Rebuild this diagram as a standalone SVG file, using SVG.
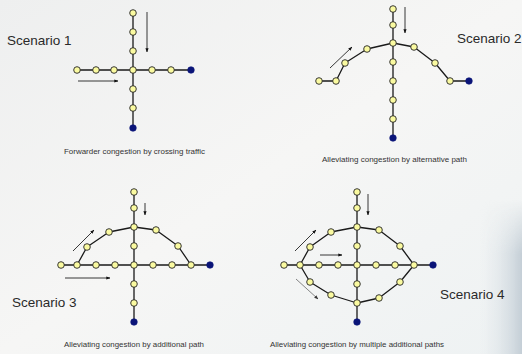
<svg xmlns="http://www.w3.org/2000/svg" width="522" height="354" viewBox="0 0 522 354">
  <defs>
    <linearGradient id="bg" x1="0" y1="0" x2="1" y2="1">
      <stop offset="0" stop-color="#eeefef"/>
      <stop offset="0.5" stop-color="#f6f6f5"/>
      <stop offset="1" stop-color="#eef2f3"/>
    </linearGradient>
    <linearGradient id="edge" x1="0" y1="0" x2="1" y2="0">
      <stop offset="0" stop-color="#e4eaee" stop-opacity="0"/>
      <stop offset="1" stop-color="#c4ced6"/>
    </linearGradient>
    <linearGradient id="edge-fade" x1="0" y1="0" x2="0" y2="1">
      <stop offset="0" stop-color="#fff" stop-opacity="0"/>
      <stop offset="0.35" stop-color="#fff" stop-opacity="1"/>
      <stop offset="1" stop-color="#fff" stop-opacity="1"/>
    </linearGradient>
    <mask id="edge-mask" maskUnits="userSpaceOnUse" x="480" y="200" width="42" height="154">
      <rect x="480" y="200" width="42" height="154" fill="url(#edge-fade)"/>
    </mask>
    <marker id="head" viewBox="0 0 6 6" refX="5.5" refY="3" markerWidth="4.5" markerHeight="4.5" orient="auto">
      <path d="M0,0.6 L6,3 L0,5.4 Z" fill="#111"/>
    </marker>
    <marker id="head-grey" viewBox="0 0 6 6" refX="5.5" refY="3" markerWidth="4.5" markerHeight="4.5" orient="auto">
      <path d="M0,0.6 L6,3 L0,5.4 Z" fill="#333"/>
    </marker>
  </defs>
  <style>
    .link { fill: none; stroke: #1a1a1a; stroke-width: 1.3; stroke-linejoin: round; }
    .flow { fill: none; stroke: #222; stroke-width: 0.9; marker-end: url(#head); }
    .flow-grey { fill: none; stroke: #777; stroke-width: 0.9; marker-end: url(#head-grey); }
    .hop { fill: #fafaa0; stroke: #222; stroke-width: 0.9; }
    .sink { fill: #0a1478; stroke: #0a1478; stroke-width: 0.6; }
    .title { font-family: "Liberation Sans", Arial, sans-serif; font-size: 13.5px; fill: #2a2a2a; }
    .caption { font-family: "Liberation Sans", Arial, sans-serif; font-size: 8px; fill: #333; }
  </style>

  <!-- background -->
  <rect x="0" y="0" width="522" height="354" fill="url(#bg)"/>
  <rect x="480" y="200" width="42" height="154" fill="url(#edge)" mask="url(#edge-mask)"/>

  <!-- links and traffic arrows -->
  <g id="connectors">
    <!-- scenario 1 -->
    <path class="link" d="M133,13 V128 M77,70 H191"/>
    <path class="flow" d="M147,12 V52"/>
    <path class="flow" d="M78,81 H118"/>
    <!-- scenario 2 -->
    <path class="link" d="M393,9 V138"/>
    <path class="link" d="M319,81 L336,81 L345,63 L367,49 L393,43 L414,47 L435,63 L450,81 L469,81"/>
    <path class="flow" d="M405,7 V33"/>
    <path class="flow" d="M330,68 L352,47"/>
    <!-- scenario 3 -->
    <path class="link" d="M134,192 V322 M61,265 H210"/>
    <path class="link" d="M77,265 L87,247 L109,232 L134,227 L156,230 L178,246 L191,265"/>
    <path class="flow" d="M145,203 V215"/>
    <path class="flow" d="M73,251 L94,230"/>
    <path class="flow" d="M65,278 H110"/>
    <!-- scenario 4 -->
    <path class="link" d="M357,192 V322 M284,265 H433"/>
    <path class="link" d="M300,265 L310,247 L331,232 L357,227 L379,230 L400,246 L414,265"/>
    <path class="link" d="M300,265 L310,282 L331,295 L357,303 L379,298 L400,282 L414,265"/>
    <path class="flow" d="M368,194 V215"/>
    <path class="flow" d="M295,251 L316,230"/>
    <path class="flow" d="M320,255 H342"/>
    <path class="flow-grey" d="M296,279 L318,299"/>
  </g>

  <!-- scenario 1 nodes -->
  <g id="scenario1">
    <text class="title" x="7" y="45">Scenario 1</text>
    <circle class="hop" cx="133" cy="13" r="3.3"/>
    <circle class="hop" cx="133" cy="32" r="3.3"/>
    <circle class="hop" cx="133" cy="51" r="3.3"/>
    <circle class="hop" cx="133" cy="70" r="3.3"/>
    <circle class="hop" cx="133" cy="89" r="3.3"/>
    <circle class="hop" cx="133" cy="108" r="3.3"/>
    <circle class="sink" cx="133" cy="128" r="3.3"/>
    <circle class="hop" cx="77" cy="70" r="3.3"/>
    <circle class="hop" cx="96" cy="70" r="3.3"/>
    <circle class="hop" cx="114" cy="70" r="3.3"/>
    <circle class="hop" cx="152" cy="70" r="3.3"/>
    <circle class="hop" cx="171" cy="70" r="3.3"/>
    <circle class="sink" cx="191" cy="70" r="3.3"/>
    <text class="caption" x="64" y="154" textLength="141" lengthAdjust="spacingAndGlyphs">Forwarder congestion by crossing traffic</text>
  </g>

  <!-- scenario 2 nodes -->
  <g id="scenario2">
    <text class="title" x="457" y="43">Scenario 2</text>
    <circle class="hop" cx="393" cy="9" r="3.3"/>
    <circle class="hop" cx="393" cy="25" r="3.3"/>
    <circle class="hop" cx="393" cy="43" r="3.3"/>
    <circle class="hop" cx="393" cy="62" r="3.3"/>
    <circle class="hop" cx="393" cy="81" r="3.3"/>
    <circle class="hop" cx="393" cy="100" r="3.3"/>
    <circle class="hop" cx="393" cy="119" r="3.3"/>
    <circle class="sink" cx="393" cy="138" r="3.3"/>
    <circle class="hop" cx="319" cy="81" r="3.3"/>
    <circle class="hop" cx="336" cy="81" r="3.3"/>
    <circle class="hop" cx="345" cy="63" r="3.3"/>
    <circle class="hop" cx="367" cy="49" r="3.3"/>
    <circle class="hop" cx="414" cy="47" r="3.3"/>
    <circle class="hop" cx="435" cy="63" r="3.3"/>
    <circle class="hop" cx="450" cy="81" r="3.3"/>
    <circle class="sink" cx="469" cy="81" r="3.3"/>
    <text class="caption" x="322" y="162" textLength="145" lengthAdjust="spacingAndGlyphs">Alleviating congestion by alternative path</text>
  </g>

  <!-- scenario 3 nodes -->
  <g id="scenario3">
    <text class="title" x="12" y="307">Scenario 3</text>
    <circle class="hop" cx="134" cy="192" r="3.3"/>
    <circle class="hop" cx="134" cy="208" r="3.3"/>
    <circle class="hop" cx="134" cy="227" r="3.3"/>
    <circle class="hop" cx="134" cy="246" r="3.3"/>
    <circle class="hop" cx="134" cy="265" r="3.3"/>
    <circle class="hop" cx="134" cy="284" r="3.3"/>
    <circle class="hop" cx="134" cy="303" r="3.3"/>
    <circle class="sink" cx="134" cy="322" r="3.3"/>
    <circle class="hop" cx="61" cy="265" r="3.3"/>
    <circle class="hop" cx="77" cy="265" r="3.3"/>
    <circle class="hop" cx="96" cy="265" r="3.3"/>
    <circle class="hop" cx="115" cy="265" r="3.3"/>
    <circle class="hop" cx="153" cy="265" r="3.3"/>
    <circle class="hop" cx="172" cy="265" r="3.3"/>
    <circle class="hop" cx="191" cy="265" r="3.3"/>
    <circle class="sink" cx="210" cy="265" r="3.3"/>
    <circle class="hop" cx="87" cy="247" r="3.3"/>
    <circle class="hop" cx="109" cy="232" r="3.3"/>
    <circle class="hop" cx="156" cy="230" r="3.3"/>
    <circle class="hop" cx="178" cy="246" r="3.3"/>
    <text class="caption" x="64" y="347" textLength="140" lengthAdjust="spacingAndGlyphs">Alleviating congestion by additional path</text>
  </g>

  <!-- scenario 4 nodes -->
  <g id="scenario4">
    <text class="title" x="440" y="299">Scenario 4</text>
    <circle class="hop" cx="357" cy="192" r="3.3"/>
    <circle class="hop" cx="357" cy="208" r="3.3"/>
    <circle class="hop" cx="357" cy="227" r="3.3"/>
    <circle class="hop" cx="357" cy="246" r="3.3"/>
    <circle class="hop" cx="357" cy="265" r="3.3"/>
    <circle class="hop" cx="357" cy="284" r="3.3"/>
    <circle class="hop" cx="357" cy="303" r="3.3"/>
    <circle class="sink" cx="357" cy="322" r="3.3"/>
    <circle class="hop" cx="284" cy="265" r="3.3"/>
    <circle class="hop" cx="300" cy="265" r="3.3"/>
    <circle class="hop" cx="319" cy="265" r="3.3"/>
    <circle class="hop" cx="338" cy="265" r="3.3"/>
    <circle class="hop" cx="376" cy="265" r="3.3"/>
    <circle class="hop" cx="395" cy="265" r="3.3"/>
    <circle class="hop" cx="414" cy="265" r="3.3"/>
    <circle class="sink" cx="433" cy="265" r="3.3"/>
    <circle class="hop" cx="310" cy="247" r="3.3"/>
    <circle class="hop" cx="331" cy="232" r="3.3"/>
    <circle class="hop" cx="379" cy="230" r="3.3"/>
    <circle class="hop" cx="400" cy="246" r="3.3"/>
    <circle class="hop" cx="310" cy="282" r="3.3"/>
    <circle class="hop" cx="331" cy="295" r="3.3"/>
    <circle class="hop" cx="379" cy="298" r="3.3"/>
    <circle class="hop" cx="400" cy="282" r="3.3"/>
    <text class="caption" x="270" y="347" textLength="174" lengthAdjust="spacingAndGlyphs">Alleviating congestion by multiple additional paths</text>
  </g>
</svg>
